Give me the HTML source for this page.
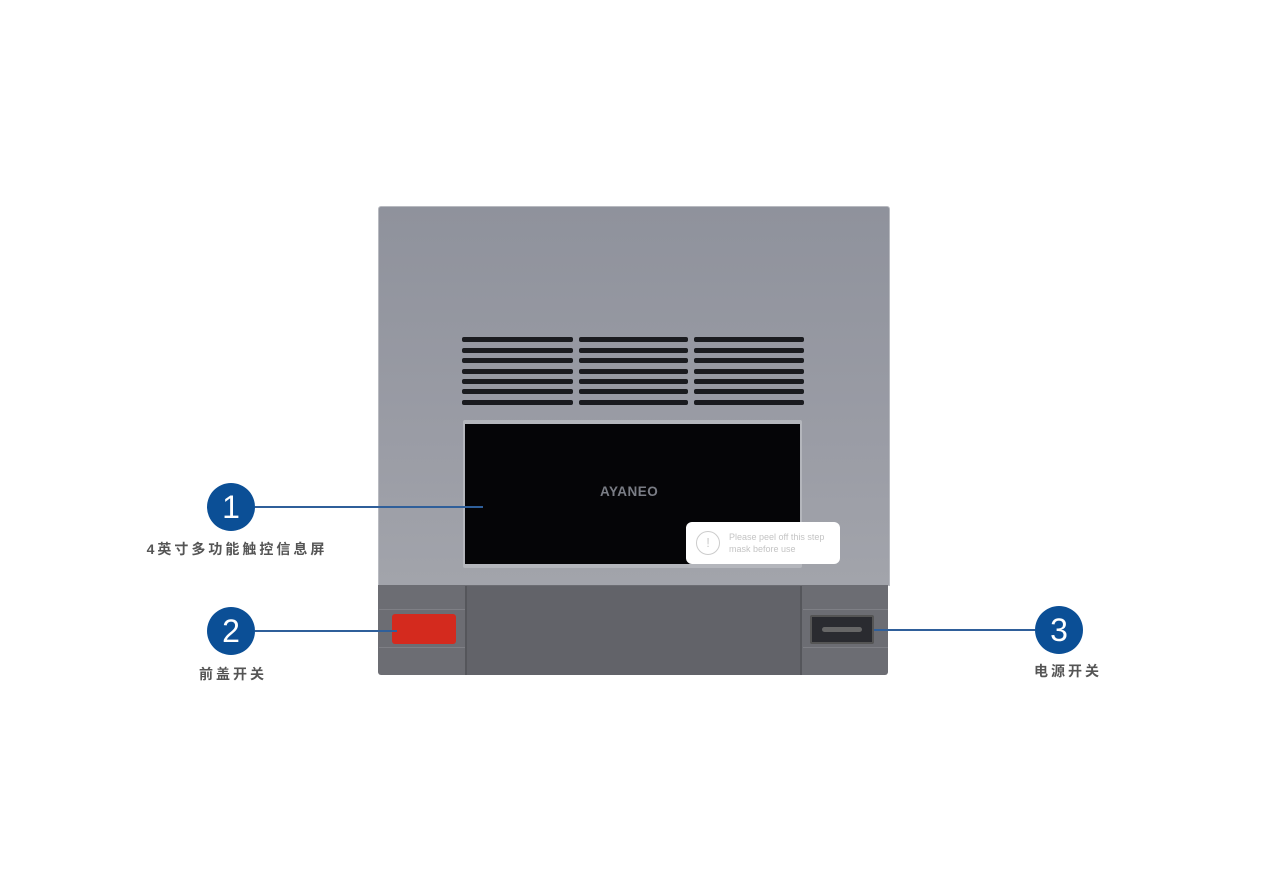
<!DOCTYPE html>
<html><head><meta charset="utf-8"><style>
body{margin:0;width:1271px;height:895px;background:#fff;position:relative;overflow:hidden;font-family:"Liberation Sans","Noto Sans CJK SC",sans-serif}
div{position:absolute;box-sizing:border-box}
.slat{height:5px;background:#1a1b1f;border-radius:2px}
.c{width:48px;height:48px;border-radius:50%;background:#0b4f96;color:#fff;font-size:32px;text-align:center;line-height:48px}
.ln{height:1.5px;background:#2f5f9a}
.lb{font-size:14px;font-weight:bold;color:#555;letter-spacing:3px;white-space:nowrap;transform:translateX(-50%)}
</style></head><body>
<div style="left:378px;top:206px;width:512px;height:380px;background:linear-gradient(180deg,#8f929c,#9a9ca5 60%,#a2a4ab);border-radius:3px 3px 0 0;border:1px solid #b8bac0"></div>
<div id="v"></div>
<div style="left:463px;top:420px;width:339px;height:148px;background:#b4b6bc;border-radius:2px"></div>
<div style="left:465px;top:424px;width:335px;height:140px;background:#050507"></div>
<div style="left:600px;top:484px;font-size:13.5px;font-weight:bold;color:#7a7d85;letter-spacing:0.5px">AYANEO</div>
<div style="left:686px;top:522px;width:154px;height:42px;background:#fff;border-radius:6px"></div>
<div style="left:696px;top:531px;width:24px;height:24px;border:1px solid #ccc;border-radius:50%;color:#ccc;font-size:13px;text-align:center;line-height:22px">!</div>
<div style="left:729px;top:531px;font-size:9px;color:#c4c4c4;line-height:12px">Please peel off this step<br>mask before use</div>
<div style="left:378px;top:585px;width:510px;height:90px;background:#6c6d73;border-radius:0 0 3px 3px"></div>
<div style="left:465px;top:586px;width:337px;height:89px;background:#626369;border-left:2px solid #55565b;border-right:2px solid #55565b"></div>
<div style="left:379px;top:609px;width:86px;height:1px;background:#7e7f85"></div>
<div style="left:379px;top:647px;width:86px;height:1px;background:#7e7f85"></div>
<div style="left:803px;top:609px;width:85px;height:1px;background:#7e7f85"></div>
<div style="left:803px;top:647px;width:85px;height:1px;background:#7e7f85"></div>
<div style="left:392px;top:614px;width:64px;height:30px;background:#d42a1e;border-radius:3px"></div>
<div style="left:810px;top:615px;width:64px;height:29px;background:#2a2b30;border:2px solid #555;border-radius:2px"></div>
<div style="left:822px;top:627px;width:40px;height:5px;background:#666;border-radius:3px"></div>
<div class="c" style="left:207px;top:483px">1</div>
<div class="ln" style="left:255px;top:506px;width:228px"></div>
<div class="lb" style="left:237px;top:539px">4英寸多功能触控信息屏</div>
<div class="c" style="left:207px;top:607px">2</div>
<div class="ln" style="left:255px;top:630px;width:142px"></div>
<div class="lb" style="left:233px;top:664px">前盖开关</div>
<div class="c" style="left:1035px;top:606px">3</div>
<div class="ln" style="left:874px;top:629px;width:161px"></div>
<div class="lb" style="left:1068px;top:661px">电源开关</div>
<script>
var s='';var xs=[[462,111],[579,109],[694,110]];var ys=[337,348,358,369,379,389,400];
xs.forEach(function(a){ys.forEach(function(y){s+='<div class="slat" style="left:'+a[0]+'px;top:'+y+'px;width:'+a[1]+'px"></div>';});});
document.getElementById('v').outerHTML=s;
</script>
</body></html>
